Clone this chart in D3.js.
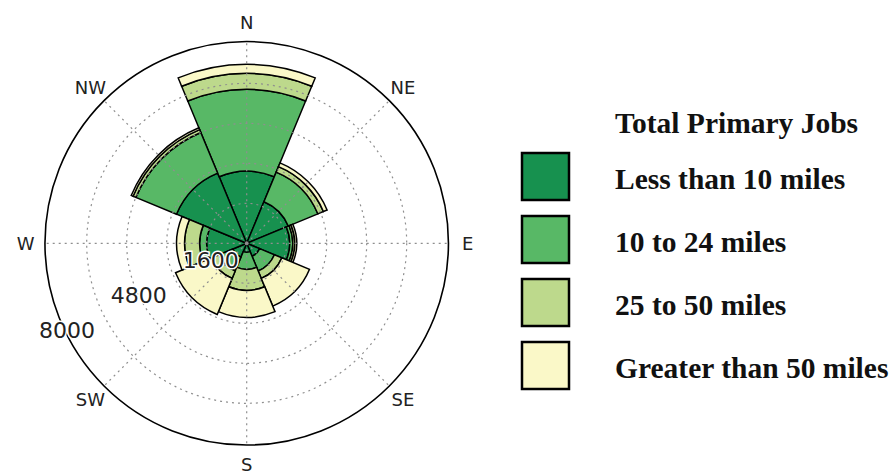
<!DOCTYPE html>
<html><head><meta charset="utf-8">
<script src="https://cdn.jsdelivr.net/npm/d3@7"></script>
<style>body{margin:0;background:#fff}</style>
</head><body><svg id="c" width="893" height="476"></svg>
<script>
// ---- data ----
const directions = ["N","NE","E","SE","S","SW","W","NW"];
const dirAngles = [0,45,90,135,180,225,270,315];
const bins = ["Less than 10 miles","10 to 24 miles","25 to 50 miles","Greater than 50 miles"];
const lessThan10 = [2880,1800,1720,560,360,600,1600,3040];
const from10to24 = [3280,1280,120,640,680,600,280,1760];
const from25to50 = [640,240,80,320,840,320,600,120];
const over50     = [360,160,80,1200,1080,1560,320,80];
const rTicks = [1600,3200,4800,6400,8000];
const rTickLabels = ["1600","","4800","","8000"];
const legendTitle = "Total Primary Jobs";
const colors = ["#17914f","#58b866","#bdd98c","#faf8c8"];

// ---- layout ----
const svg = d3.select("#c");
const cx = 246.7, cy = 243.3;
const rMax = 8070;
const r = d3.scaleLinear().domain([0, 8000]).range([0, 200]);
const rad = d => d * Math.PI / 180;
const sector = 45;

const rows = directions.map((d,i)=>({dir:d, angle:dirAngles[i],
  [bins[0]]:lessThan10[i],[bins[1]]:from10to24[i],[bins[2]]:from25to50[i],[bins[3]]:over50[i]}));
const stack = d3.stack().keys(bins)(rows);

const g = svg.append("g").attr("transform",`translate(${cx},${cy})`);
const arc = d3.arc();

// bars, layer by layer
stack.forEach((layer, li) => {
  g.append("g").selectAll("path").data(layer).join("path")
    .attr("d", d => arc({innerRadius:r(d[0]), outerRadius:r(d[1]),
        startAngle:rad(d.data.angle - sector/2), endAngle:rad(d.data.angle + sector/2)}))
    .attr("fill", colors[li])
    .attr("stroke","#000").attr("stroke-width",1.5).attr("stroke-linejoin","miter");
});

// grid (on top)
const grid = g.append("g").attr("fill","none").attr("stroke","#8f8f8f").attr("stroke-width",1.2)
  .attr("stroke-dasharray","2,4");
grid.selectAll("circle").data(rTicks.slice(0,-1)).join("circle").attr("r", d=>r(d));
grid.selectAll("line").data(dirAngles).join("line")
  .attr("x1",0).attr("y1",0)
  .attr("x2", d=>r(rMax)*Math.sin(rad(d)))
  .attr("y2", d=>-r(rMax)*Math.cos(rad(d)));

// outer circle
g.append("circle").attr("r", r(rMax)).attr("fill","none").attr("stroke","#000").attr("stroke-width",1.6);

// compass labels
g.append("g").selectAll("text").data(directions).join("text")
  .attr("x",(d,i)=>221*Math.sin(rad(dirAngles[i])))
  .attr("y",(d,i)=>-221*Math.cos(rad(dirAngles[i])))
  .attr("text-anchor","middle").attr("dominant-baseline","central")
  .attr("font-family","DejaVu Sans").attr("font-size",18).attr("fill","#222")
  .text(d=>d);

// radial labels
const labAng = 244;
g.append("g").selectAll("text").data(rTicks.map((t,i)=>({t,label:rTickLabels[i]})).filter(d=>d.label))
  .join("text")
  .attr("x", d=>r(d.t)*Math.sin(rad(labAng)))
  .attr("y", d=>-r(d.t)*Math.cos(rad(labAng)))
  .attr("text-anchor","middle").attr("dominant-baseline","central")
  .attr("font-family","DejaVu Sans").attr("font-size",22).attr("fill","#222")
  .attr("stroke","#fff").attr("stroke-width",3).attr("paint-order","stroke")
  .text(d=>d.label);

// legend
const lg = svg.append("g");
lg.append("text").attr("x",615).attr("y",133).text(legendTitle)
  .attr("font-family","Liberation Serif").attr("font-weight","bold").attr("font-size",29.5).attr("fill","#111");
const items = lg.selectAll("g.item").data(bins).join("g").attr("class","item")
  .attr("transform",(d,i)=>`translate(0,${153 + i*63})`);
items.append("rect").attr("x",522).attr("y",0).attr("width",47).attr("height",47)
  .attr("fill",(d,i)=>colors[i]).attr("stroke","#000").attr("stroke-width",2.5);
items.append("text").attr("x",615).attr("y",36).text(d=>d)
  .attr("font-family","Liberation Serif").attr("font-weight","bold").attr("font-size",29.5).attr("fill","#111");
</script></body></html>
